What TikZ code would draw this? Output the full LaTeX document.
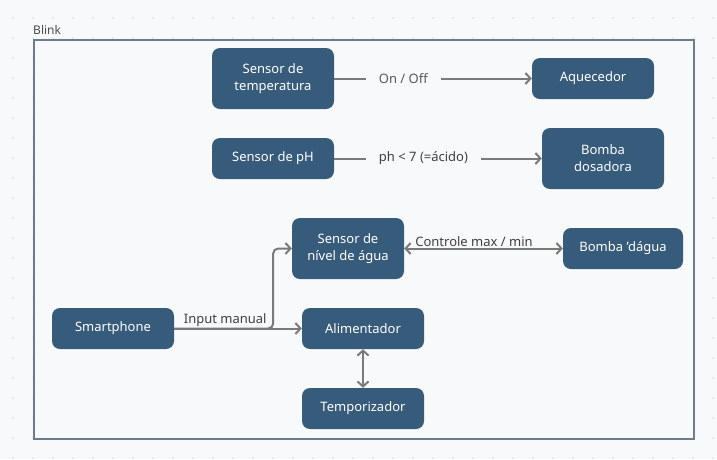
\documentclass[tikz,border=0pt]{standalone}
\usepackage{fontspec}
\setmainfont{Noto Sans}
\usepackage{tikz}
\usetikzlibrary{arrows.meta}
\definecolor{boxBlue}{HTML}{365B7B}
\definecolor{edgeGrey}{HTML}{7A7A7A}
\definecolor{frameGrey}{HTML}{6E7B8E}
\definecolor{paper}{HTML}{F8F9FB}
\definecolor{dotGrey}{HTML}{DCDFE4}

\begin{document}
\begin{tikzpicture}[x=1pt, y=-1pt, >={Straight Barb[length=5pt,width=11pt]},
        every node/.style={font=\fontsize{13}{17}\selectfont}]
        \tikzstyle{nodeStyle} = [rectangle, rounded corners=8pt, fill=boxBlue, text=white, align=center, minimum width=122pt, minimum height=41pt, inner sep=2pt]
        \tikzstyle{tallNode} = [nodeStyle, minimum height=61pt]
        \tikzstyle{greyEdge} = [draw=edgeGrey, line width=2pt]
        \tikzstyle{edgeLabel} = [fill=paper, text=black!75, inner xsep=13pt, inner ysep=2pt]
        \useasboundingbox (0,0) rectangle (717,459);
        \fill[paper] (0,0) rectangle (717,459);
        \foreach \x in {13,33,...,713}
            \foreach \y in {18,38,...,458}
                \fill[dotGrey] (\x,\y) circle (1pt);
        \node[draw=frameGrey, line width=1.5pt, fill=paper, inner sep=0pt,
              minimum width=660pt, minimum height=399pt, anchor=north west] (frame) at (33,39) {};
        \node[anchor=south west, inner sep=0pt, text=black!70,
              font=\fontsize{12}{14}\selectfont] (blink) at (33,35) {Blink};
        \node[tallNode] (temp) at (273,78.5) {Sensor de\\temperatura};
        \node[nodeStyle] (aquec) at (593,78.5) {Aquecedor};
        \node[nodeStyle] (ph) at (273,158.5) {Sensor de pH};
        \node[tallNode] (dosad) at (603,158.5) {Bomba\\dosadora};
        \node[tallNode, minimum width=112pt] (nivel) at (348,248.5) {Sensor de\\nível de água};
        \node[nodeStyle, minimum width=120pt] (agua) at (623,248.5) {Bomba ’dágua};
        \node[nodeStyle] (smart) at (113,328.5) {Smartphone};
        \node[nodeStyle] (alim) at (363,328.5) {Alimentador};
        \node[nodeStyle] (tempo) at (363,408.5) {Temporizador};
        \path[greyEdge, ->] (temp) -- node[edgeLabel, pos=0.35, text=black!65] {On / Off} (aquec);
        \path[greyEdge, ->] (ph) -- node[edgeLabel, pos=0.43] {ph < 7 (=ácido)} (dosad);
        \path[greyEdge, <->] (nivel) -- node[above, pos=0.44, text=black!75, inner sep=1pt] {Controle max / min} (agua);
        \path[greyEdge, ->] (smart) -- node[above, pos=0.40, text=black!75, inner sep=1pt] {Input manual} (alim);
        \path[greyEdge, ->, rounded corners=5pt] (smart.east) -- ++(99,0) |- (nivel.west);
        \path[greyEdge, <->] (alim) -- (tempo);
    \end{tikzpicture}
\end{document}
